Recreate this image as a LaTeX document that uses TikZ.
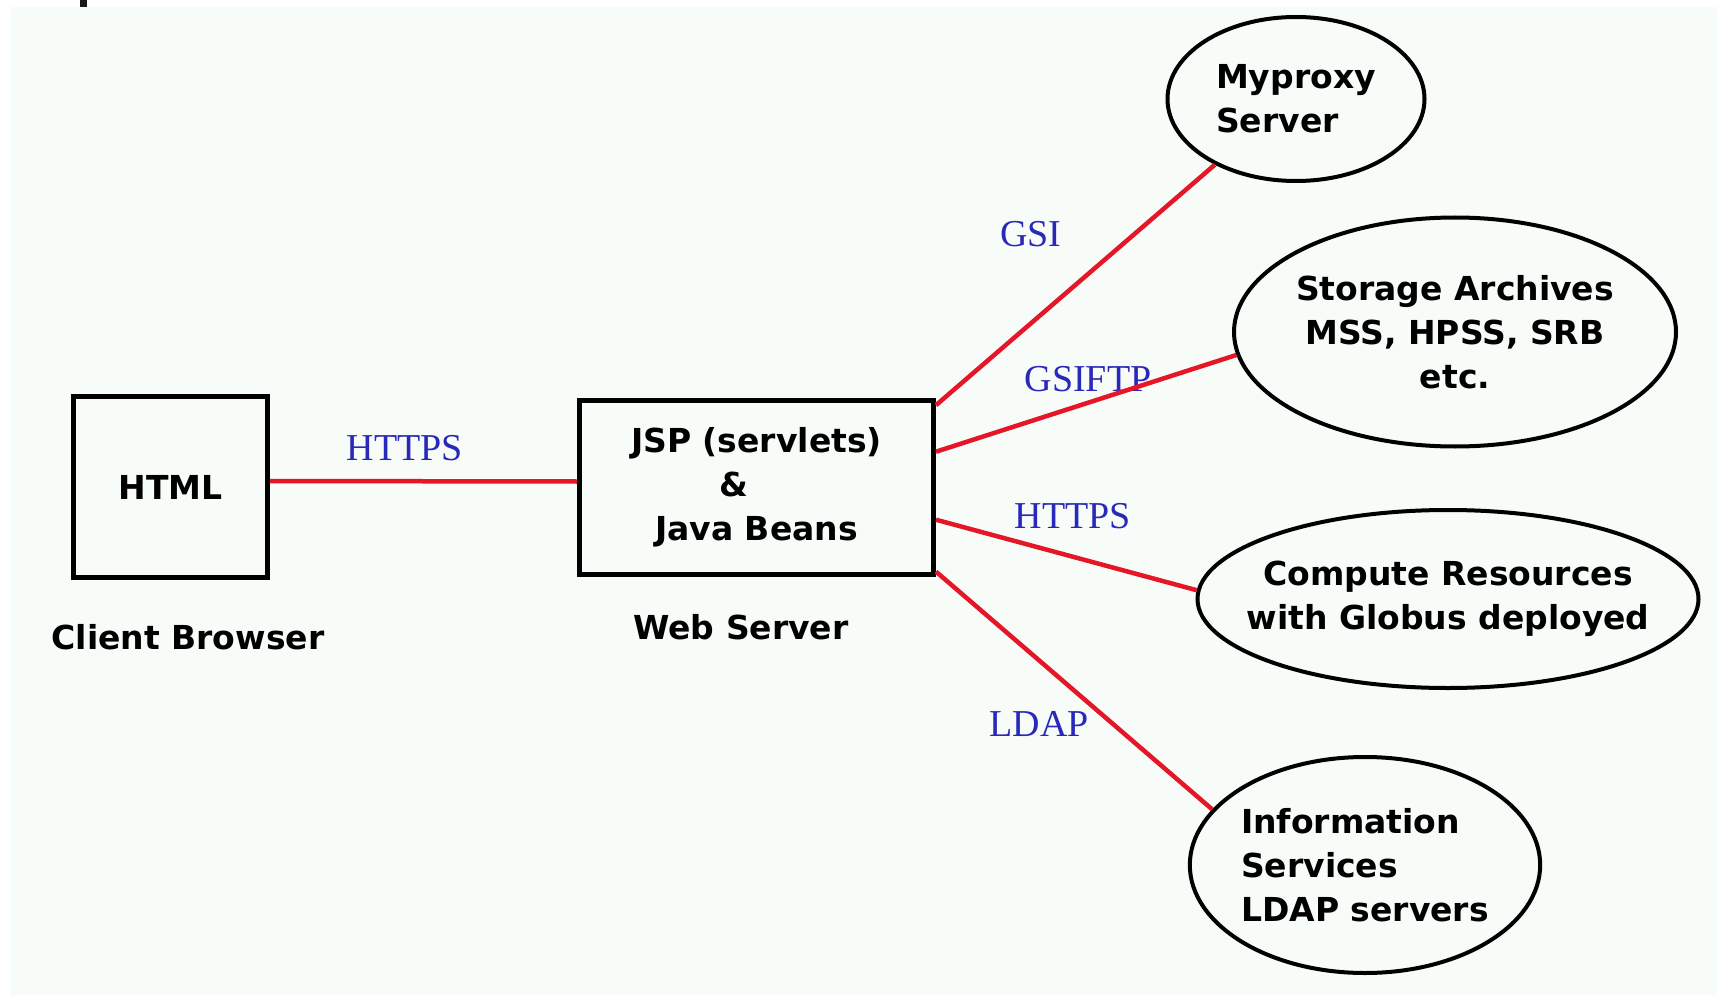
\documentclass[tikz,border=0pt]{standalone}
\usepackage{fontspec}
\setmainfont{DejaVu Sans}
\newfontfamily\lblfont{Liberation Serif}
\usetikzlibrary{shapes.geometric,calc}
\definecolor{bgc}{RGB}{248,252,248}
\definecolor{linkred}{RGB}{228,22,40}
\definecolor{lblblue}{RGB}{40,40,185}
\begin{document}
\begin{tikzpicture}[x=1pt,y=-1pt,
  txt/.style={font=\fontsize{33}{44}\selectfont\bfseries, inner sep=0pt},
  box/.style={txt, draw=black, line width=5pt, rectangle, align=center},
  oval/.style={txt, draw=black, line width=4pt, ellipse},
  lbl/.style={font=\lblfont\fontsize{38}{40}\selectfont, text=lblblue, inner sep=0pt},
  link/.style={draw=linkred, line width=4.5pt}]
\useasboundingbox (0,0) rectangle (1717,995);
\fill[bgc] (10,7) rectangle (1717,995);
\fill[black!90] (80,0) rectangle (87,7);

% boxes
\node[box, minimum width=194pt, minimum height=181pt] (html) at (170.5,487) {HTML};
\node[box, minimum width=354pt, minimum height=174pt] (jsp) at (756.5,487.5) {JSP (servlets)\\\&\rule{46pt}{0pt}\\Java Beans};
\node[txt] (client) at (188,637) {Client Browser};
\node[txt] (web) at (741,627) {Web Server};

% ellipses
\node[oval, align=left, minimum width=257pt, minimum height=164pt] (myproxy) at (1296,99) {Myproxy\\Server};
\node[oval, align=center, inner xsep=-4pt, minimum width=442pt, minimum height=229pt] (storage) at (1455,332) {Storage Archives\\MSS, HPSS, SRB\\etc.};
\node[oval, align=center, inner xsep=-25pt, minimum width=501pt, minimum height=178pt] (compute) at (1448,599) {Compute Resources\\with Globus deployed};
\node[oval, align=left, minimum width=347pt, minimum height=216pt] (info) at (1365,865) {Information\\Services\\LDAP servers};

% labels
\node[lbl] (l1) at (405,448) {HTTPS};
\node[lbl] (l2) at (1031,234) {GSI};
\node[lbl] (l3) at (1088,379) {GSIFTP};
\node[lbl] (l4) at (1073,516) {HTTPS};
\node[lbl] (l5) at (1039,724) {LDAP};

% connectors
\draw[link] ($(html.east)+(0,-6)$) -- ($(jsp.west)+(0,-6)$);
\draw[link] ($(jsp.north east)!0.04!(jsp.south east)$) -- (myproxy.219);
\draw[link] ($(jsp.north east)!0.30!(jsp.south east)$) -- (storage.186);
\draw[link] ($(jsp.north east)!0.68!(jsp.south east)$) -- (compute.178);
\draw[link] ($(jsp.north east)!0.97!(jsp.south east)$) -- (info.160);
\end{tikzpicture}
\end{document}
